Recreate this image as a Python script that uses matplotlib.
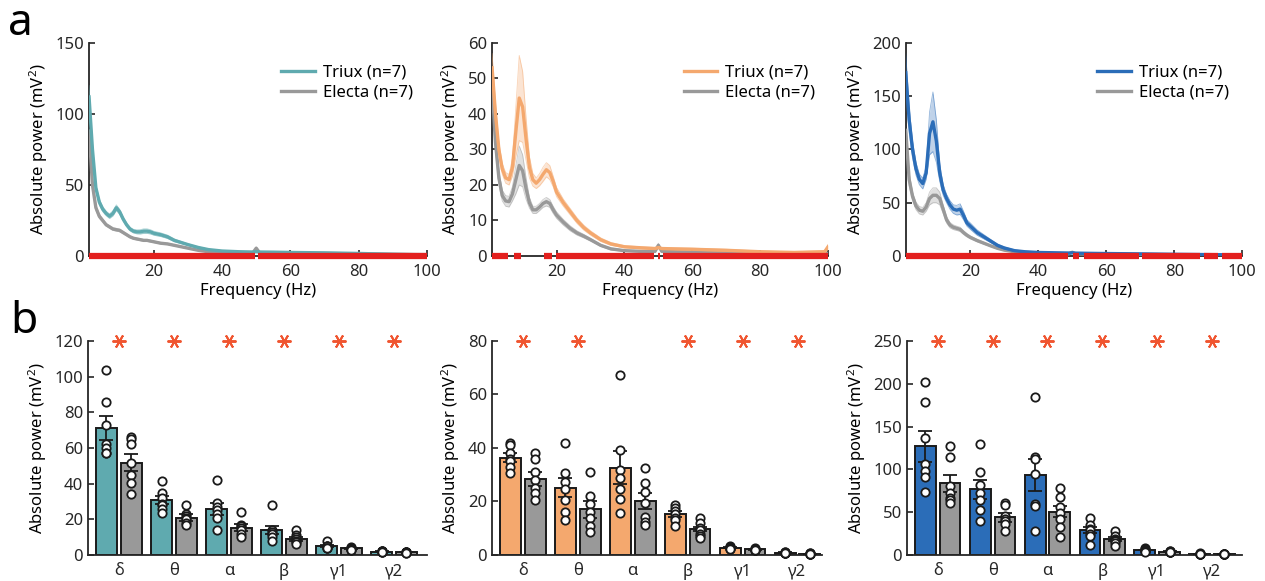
import numpy as np
import matplotlib
matplotlib.use("Agg")
import matplotlib.pyplot as plt

plt.rcParams['font.family'] = ['Noto Sans', 'DejaVu Sans']
plt.rcParams['font.size'] = 12
plt.rcParams['mathtext.fontset'] = 'custom'
plt.rcParams['mathtext.rm'] = 'Noto Sans'
plt.rcParams['mathtext.it'] = 'Noto Sans:italic'
plt.rcParams['axes.linewidth'] = 1.3
plt.rcParams['axes.edgecolor'] = '#262626'
plt.rcParams['xtick.color'] = '#262626'
plt.rcParams['ytick.color'] = '#262626'

# ---------------- dados: espectros (painel a) ----------------
freq = [1, 2, 3, 4, 5, 6, 7, 8, 9, 10, 11, 12, 13, 14, 15, 16, 17, 18, 19, 20,
        22, 24, 26, 28, 30, 33, 36, 40, 45, 49, 50, 51, 55, 60, 70, 80, 90, 99, 100]

# canal 1 (teal)
triux_1 = [112, 75, 48, 38, 33, 30, 28, 30, 34, 31, 26, 22, 19, 17.5, 17, 17, 17.5, 17.5, 17, 16,
           15, 13.5, 11, 9.5, 8, 6, 4.5, 3.5, 3, 2.8, 3, 2.8, 2.7, 2.5, 2.2, 1.8, 1.2, 0.8, 0.8]
triux_1_sem = [8, 4, 2.5, 2, 1.8, 1.6, 1.6, 1.8, 2, 1.8, 1.6, 1.4, 1.3, 1.3, 1.4, 1.5, 1.6, 1.6, 1.5, 1.4,
               1.3, 1.2, 1, 0.8, 0.6, 0.5, 0.4, 0.3, 0.3, 0.3, 0.3, 0.3, 0.3, 0.2, 0.2, 0.2, 0.2, 0.2, 0.2]
electa_1 = [88, 50, 34, 28, 25, 22, 20.5, 19, 18.5, 18, 16.5, 15, 13.5, 12.5, 12, 11.5, 11, 11, 10.5, 10,
            9, 8.5, 7.5, 6.5, 5.5, 4, 3, 2.5, 2.2, 2.2, 5.5, 2.2, 2, 2, 1.8, 1.5, 1.2, 1, 1]
electa_1_sem = [6, 3, 2, 1.5, 1.2, 1, 1, 1, 1, 1, 0.9, 0.8, 0.7, 0.7, 0.7, 0.7, 0.7, 0.7, 0.7, 0.6,
                0.6, 0.5, 0.5, 0.4, 0.4, 0.3, 0.3, 0.2, 0.2, 0.2, 0.8, 0.2, 0.2, 0.2, 0.2, 0.2, 0.1, 0.1, 0.1]

# canal 2 (laranja)
triux_2 = [53, 40, 30, 24.5, 22, 21.5, 25, 35, 44.5, 42, 33, 25, 21.5, 20.5, 21.5, 23, 24.3, 23.5, 21, 18,
           15, 12.5, 10, 8, 6.5, 4.6, 3.4, 2.6, 2.3, 2.1, 2.4, 2.1, 2, 1.9, 1.6, 1.2, 1, 1.2, 2.6]
triux_2_sem = [4, 3, 2, 1.5, 1.5, 1.5, 2.5, 7, 12, 10, 6, 3, 1.8, 1.5, 1.7, 2, 2, 2, 1.5, 1.3,
               1, 0.9, 0.8, 0.7, 0.6, 0.5, 0.4, 0.3, 0.3, 0.3, 0.3, 0.3, 0.3, 0.3, 0.3, 0.2, 0.2, 0.3, 0.6]
electa_2 = [48, 32, 22, 17, 15.5, 15.3, 17.5, 21.5, 25.5, 24, 19, 15, 13, 13, 13.8, 14.8, 15.3, 14.8, 13, 11.5,
            9.5, 7.8, 6.5, 5.6, 4.6, 3, 2, 1.5, 1.3, 1.3, 3, 1.3, 1.2, 1.1, 1, 0.9, 0.8, 0.7, 0.7]
electa_2_sem = [4, 3, 2, 1.5, 1.5, 1.5, 2, 4, 5.5, 4.5, 3, 1.5, 1, 1, 1, 1.1, 1.2, 1.1, 1, 0.9,
                0.8, 0.7, 0.6, 0.5, 0.4, 0.3, 0.3, 0.2, 0.2, 0.2, 0.6, 0.2, 0.2, 0.2, 0.1, 0.1, 0.1, 0.1, 0.1]

# canal 3 (azul)
triux_3 = [172, 128, 100, 82, 72, 68, 78, 115, 126, 108, 78, 62, 54, 48, 44, 43, 44, 38, 31, 28,
           22, 18, 14, 10, 7.5, 5, 4, 3.3, 3, 2.8, 3, 2.7, 2.5, 2.3, 2, 1.6, 1.3, 1, 1]
triux_3_sem = [18, 12, 8, 6, 5, 5, 6, 20, 28, 20, 8, 5, 4, 4, 4, 4.5, 5, 4, 3, 3,
               2.5, 2, 1.5, 1.2, 1, 0.8, 0.6, 0.5, 0.5, 0.5, 0.5, 0.5, 0.4, 0.4, 0.3, 0.3, 0.3, 0.2, 0.2]
electa_3 = [118, 72, 56, 47, 43, 42, 46, 54, 57, 57, 54, 44, 34, 29, 27, 26, 25, 22, 19.5, 17.5,
            14.5, 12, 9.5, 7.2, 5.5, 4, 3, 2.5, 2.2, 2, 3.5, 2, 1.8, 1.6, 1.4, 1.2, 1, 0.9, 0.9]
electa_3_sem = [12, 6, 4, 3.5, 3.5, 3.5, 4, 6, 7, 7, 6, 4, 3, 2.5, 2.2, 2, 2, 1.8, 1.6, 1.4,
                1.2, 1, 0.8, 0.7, 0.6, 0.5, 0.4, 0.3, 0.3, 0.3, 0.5, 0.3, 0.3, 0.2, 0.2, 0.2, 0.2, 0.1, 0.1]

# faixas de frequência significativas (inicio, fim)
sig_1 = [(1, 49.6), (50.4, 100)]
sig_2 = [(1, 5.7), (7.6, 9.4), (16.3, 18.7), (19.7, 48.6), (49.8, 50.4), (51.4, 100)]
sig_3 = [(1, 48.6), (50.3, 52), (53.3, 69.5), (70.5, 87.7), (88.7, 92.9), (94, 100)]

# ---------------- dados: bandas (painel b) ----------------
bandas = ['δ', 'θ', 'α', 'β', 'γ1', 'γ2']

bar_triux_1 = [71.3, 30.8, 25.6, 14, 5, 1.9]
sem_triux_1 = [6.7, 2.3, 3.3, 2.2, 0.6, 0.2]
bar_electa_1 = [51.7, 21, 15.3, 9.1, 3.7, 1.5]
sem_electa_1 = [4.7, 1.8, 1.9, 1.2, 0.3, 0.1]
pts_triux_1 = [[104, 86, 73, 62, 60, 57, 57], [41.4, 34.5, 32, 28.4, 28, 26, 23.7],
               [42, 29, 27, 25, 23, 21, 14], [28, 14, 13, 12, 12, 10, 8],
               [8, 5, 5, 5, 4, 4, 4], [2.5, 2, 2, 2, 1.8, 1.6, 1.5]]
pts_electa_1 = [[66.3, 64.8, 62.1, 51.3, 44.8, 40.1, 34], [28, 23, 22, 21, 20, 18, 17],
                [24, 17, 16, 15, 14, 12, 10], [14, 11, 10, 9, 8, 7, 6],
                [4.5, 4, 4, 3.5, 3.5, 3, 3], [1.8, 1.6, 1.5, 1.5, 1.4, 1.3, 1.2]]
stars_1 = [1, 1, 1, 1, 1, 1]

bar_triux_2 = [36.4, 25.2, 32.7, 15.3, 2.7, 0.9]
sem_triux_2 = [1.8, 3.5, 6.2, 1.0, 0.2, 0.1]
bar_electa_2 = [28.4, 17, 20.1, 9.7, 2.1, 0.5]
sem_electa_2 = [2.7, 3.0, 2.9, 0.9, 0.1, 0.05]
pts_triux_2 = [[42, 41, 38, 36, 35, 33, 30.5], [41.9, 30.5, 27.4, 24.5, 20.5, 16.2, 13.1],
               [67.2, 39.4, 31.7, 28.6, 24.6, 21.1, 15.8], [18.5, 17.5, 16.5, 15.5, 14, 13, 11],
               [3.3, 3, 2.8, 2.7, 2.5, 2.4, 2.2], [1.2, 1, 0.9, 0.9, 0.8, 0.7, 0.7]]
pts_electa_2 = [[38, 36, 31, 28, 25, 23, 20.5], [31, 22, 19, 16, 14, 11, 8.5],
                [32.7, 27, 23.6, 19.3, 14.3, 12.5, 11.2], [14, 12, 10, 9.5, 8, 7, 6.5],
                [2.6, 2.3, 2.2, 2, 2, 1.8, 1.7], [0.7, 0.6, 0.5, 0.5, 0.5, 0.4, 0.4]]
stars_2 = [1, 1, 0, 1, 1, 1]

bar_triux_3 = [127.1, 76.6, 93.3, 29.2, 5.8, 1.2]
sem_triux_3 = [18, 11, 19, 3.8, 0.5, 0.1]
bar_electa_3 = [83.6, 43.9, 50.5, 18.3, 3.9, 0.8]
sem_electa_3 = [9.7, 5.5, 6.5, 2.3, 0.3, 0.1]
pts_triux_3 = [[202, 179, 137, 106, 98, 91, 73], [129.5, 96.4, 81.3, 72, 64, 52.5, 39.7],
               [184.7, 114.7, 111.6, 94.5, 59.5, 57, 28.4], [42.8, 35, 30, 29, 25, 22, 12],
               [8, 7, 6, 6, 5, 5, 4], [1.8, 1.5, 1.2, 1.1, 1, 1, 0.9]]
pts_electa_3 = [[127, 114, 81, 72, 66, 64, 61], [61, 58, 46, 42, 40, 36, 28.4],
                [78.5, 67.3, 56.4, 48.6, 42, 33, 21.4], [28, 22, 19, 17, 16, 14, 10],
                [5, 4.5, 4, 4, 3.5, 3.5, 3], [1.1, 1, 0.8, 0.8, 0.7, 0.6, 0.6]]
stars_3 = [1, 1, 1, 1, 1, 1]

# cores
cores = ['#5faaaf', '#f4a86e', '#2b6db8']
cinza = '#999999'
vermelho = '#e3201e'
laranja_estrela = '#f05530'

ylabel = 'Absolute power (mV$^2$)'

# ---------------- figura ----------------
fig = plt.figure(figsize=(12.65, 5.81), dpi=100)

pos_top = [[0.0704, 0.5594, 0.267, 0.3666],
           [0.389, 0.5594, 0.2656, 0.3666],
           [0.716, 0.5594, 0.266, 0.3666]]
pos_bot = [[0.0696, 0.0448, 0.268, 0.3683],
           [0.389, 0.0448, 0.261, 0.3683],
           [0.717, 0.0448, 0.265, 0.3683]]

espectros = [(triux_1, triux_1_sem, electa_1, electa_1_sem, sig_1, 150, 50),
             (triux_2, triux_2_sem, electa_2, electa_2_sem, sig_2, 60, 10),
             (triux_3, triux_3_sem, electa_3, electa_3_sem, sig_3, 200, 50)]

f = np.array(freq)
for i, (tr, tr_s, el, el_s, sig, ymax, ystep) in enumerate(espectros):
    ax = fig.add_axes(pos_top[i])
    tr = np.array(tr); tr_s = np.array(tr_s)
    el = np.array(el); el_s = np.array(el_s)
    # Electa (cinza)
    ax.fill_between(f, el - el_s, el + el_s, color=cinza, alpha=0.3, lw=0, zorder=2)
    ax.plot(f, el - el_s, color=cinza, lw=0.6, alpha=0.5, zorder=2)
    ax.plot(f, el + el_s, color=cinza, lw=0.6, alpha=0.5, zorder=2)
    ax.plot(f, el, color=cinza, lw=2.4, zorder=3, label='Electa (n=7)')
    # Triux (cor)
    ax.fill_between(f, tr - tr_s, tr + tr_s, color=cores[i], alpha=0.3, lw=0, zorder=3)
    ax.plot(f, tr - tr_s, color=cores[i], lw=0.6, alpha=0.5, zorder=3)
    ax.plot(f, tr + tr_s, color=cores[i], lw=0.6, alpha=0.5, zorder=3)
    ax.plot(f, tr, color=cores[i], lw=2.4, zorder=4, label='Triux (n=7)')
    # barras de significância
    for a, b in sig:
        ax.plot([a, b], [0, 0], color=vermelho, lw=4.5, solid_capstyle='butt',
                zorder=6, clip_on=False)
    ax.set_xlim(1, 100)
    ax.set_ylim(0, ymax)
    ax.set_xticks([20, 40, 60, 80, 100])
    ax.set_yticks(np.arange(0, ymax + 1, ystep))
    ax.tick_params(direction='in', length=4, width=1.2, labelsize=12)
    ax.tick_params(axis='x', pad=6)
    for s in ['top', 'right']:
        ax.spines[s].set_visible(False)
    ax.set_xlabel('Frequency (Hz)', fontsize=12, labelpad=2)
    ax.set_ylabel(ylabel, fontsize=12)
    h, l = ax.get_legend_handles_labels()
    ax.legend([h[1], h[0]], [l[1], l[0]], loc='upper left', bbox_to_anchor=(0.55, 0.93),
              frameon=False, fontsize=12, handlelength=2.0, handletextpad=0.5,
              labelspacing=0.25, borderaxespad=0)

barras = [(bar_triux_1, sem_triux_1, bar_electa_1, sem_electa_1, pts_triux_1, pts_electa_1, stars_1, 120, 20, 6.6),
          (bar_triux_2, sem_triux_2, bar_electa_2, sem_electa_2, pts_triux_2, pts_electa_2, stars_2, 80, 20, 6.45),
          (bar_triux_3, sem_triux_3, bar_electa_3, sem_electa_3, pts_triux_3, pts_electa_3, stars_3, 250, 50, 6.55)]

x = np.arange(1, len(bandas) + 1)
off = 0.225
w = 0.38
for i, (bt, st, be, se, pt, pe, stars, ymax, ystep, xr) in enumerate(barras):
    ax = fig.add_axes(pos_bot[i])
    ax.bar(x - off, bt, w, color=cores[i], edgecolor='#1a1a1a', lw=1.4, zorder=2)
    ax.bar(x + off, be, w, color=cinza, edgecolor='#1a1a1a', lw=1.4, zorder=2)
    ax.errorbar(x - off, bt, yerr=st, fmt='none', ecolor='#1a1a1a', elinewidth=1.3,
                capsize=5, capthick=1.3, zorder=3)
    ax.errorbar(x + off, be, yerr=se, fmt='none', ecolor='#1a1a1a', elinewidth=1.3,
                capsize=5, capthick=1.3, zorder=3)
    for k in range(len(bandas)):
        ax.plot([x[k] - off] * len(pt[k]), pt[k], 'o', ms=6, mfc='white', mec='#1a1a1a',
                mew=1.3, zorder=4, clip_on=False)
        ax.plot([x[k] + off] * len(pe[k]), pe[k], 'o', ms=6, mfc='white', mec='#1a1a1a',
                mew=1.3, zorder=4, clip_on=False)
        if stars[k]:
            ax.plot(x[k], ymax, marker=(6, 2, 90), ms=10, mew=1.4, color=laranja_estrela,
                    clip_on=False, zorder=5)
    ax.set_xlim(0.44, xr)
    ax.set_ylim(0, ymax)
    ax.set_xticks(x)
    ax.set_xticklabels(bandas)
    ax.set_yticks(np.arange(0, ymax + 1, ystep))
    ax.tick_params(axis='y', direction='in', length=4, width=1.2, labelsize=12)
    ax.tick_params(axis='x', length=0, labelsize=12, pad=6)
    for s in ['top', 'right']:
        ax.spines[s].set_visible(False)
    ax.set_ylabel(ylabel, fontsize=12)

# letras dos painéis
fig.text(0.006, 0.94, 'a', fontsize=32, va='baseline')
fig.text(0.008, 0.427, 'b', fontsize=32, va='baseline')

fig.savefig('out.png', dpi=100)
